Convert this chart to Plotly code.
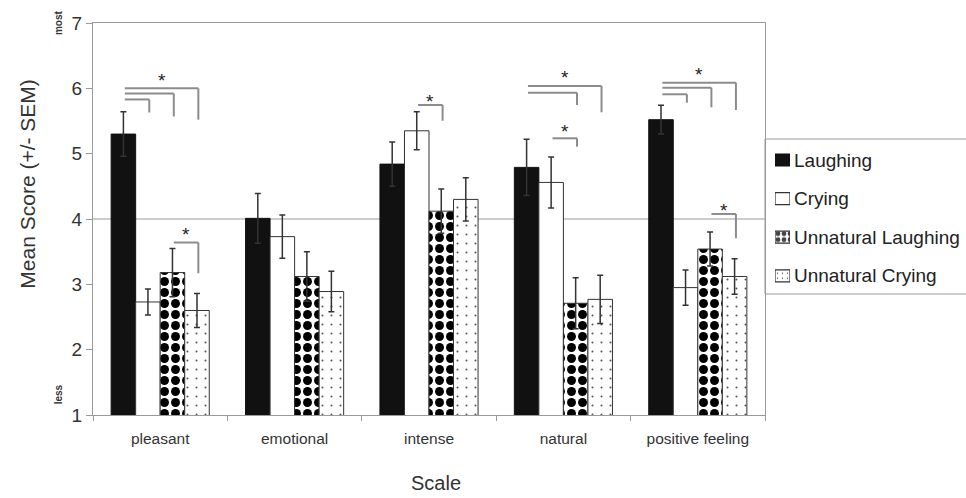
import plotly.graph_objects as go

# ---- data ---------------------------------------------------------------
categories = ["pleasant", "emotional", "intense", "natural", "positive feeling"]
series_names = ["Laughing", "Crying", "Unnatural Laughing", "Unnatural Crying"]

laughing = [5.30, 4.01, 4.84, 4.79, 5.52]
crying = [2.73, 3.73, 5.35, 4.56, 2.95]
unnatural_laughing = [3.18, 3.12, 4.12, 2.71, 3.54]
unnatural_crying = [2.60, 2.89, 4.30, 2.77, 3.12]

laughing_sem = [0.34, 0.38, 0.34, 0.43, 0.22]
crying_sem = [0.20, 0.33, 0.29, 0.39, 0.27]
unnatural_laughing_sem = [0.37, 0.38, 0.34, 0.39, 0.26]
unnatural_crying_sem = [0.26, 0.31, 0.33, 0.37, 0.27]

y_ticks = [1, 2, 3, 4, 5, 6, 7]

# significance brackets: (category, from series, to series, line level, drop end)
brackets = [
    (0, 0, 1, 5.83, 5.63),
    (0, 0, 2, 5.92, 5.57),
    (0, 0, 3, 6.00, 5.52),
    (0, 2, 3, 3.64, 3.17),
    (2, 1, 2, 5.745, 5.505),
    (3, 0, 3, 6.036, 5.633),
    (3, 0, 2, 5.933, 5.745),
    (3, 1, 2, 5.235, 5.107),
    (4, 0, 3, 6.087, 5.669),
    (4, 0, 2, 6.01, 5.71),
    (4, 0, 1, 5.909, 5.78),
    (4, 2, 3, 4.077, 3.705),
]
# asterisks: (category, from series, to series, level)
stars = [
    (0, 0, 3, 6.18),
    (0, 2, 3, 3.82),
    (2, 1, 2, 5.86),
    (3, 0, 3, 6.22),
    (3, 1, 2, 5.40),
    (4, 0, 3, 6.28),
    (4, 2, 3, 4.19),
]

# ---- geometry / styling -------------------------------------------------
W, H = 966, 498
M_L, M_T, M_B = 93, 23, 83
PLOT_W = 672                       # width of the bar panel in px
PAPER_W = W - M_L
PAPER_H = H - M_T - M_B
PANEL_END = PLOT_W / PAPER_W       # paper x of the panel's right edge


def px_x(px):
    """page x pixel -> paper fraction"""
    return (px - M_L) / PAPER_W


def px_y(py):
    """page y pixel -> paper fraction"""
    return (H - M_B - py) / PAPER_H


FONT = "Liberation Sans, Arial, sans-serif"
BAR_GAP = 0.27
N_SERIES = len(series_names)
BAR_W = (1 - BAR_GAP) / N_SERIES
AXIS_GREY = "#9a9a9a"
OUTLINE = "#333333"

fills = ["#111111", "white", "white", "white"]
outlines = ["#111111", OUTLINE, OUTLINE, OUTLINE]
pat_shapes = ["", "", ".", "."]
pat_fg = ["black", "black", "black", "#555555"]
pat_size = [10, 10, 11, 9]
pat_solidity = [0.3, 0.3, 0.52, 0.04]


def bar_center(cat, s):
    return cat + (s - (N_SERIES - 1) / 2) * BAR_W


values = [laughing, crying, unnatural_laughing, unnatural_crying]
sems = [laughing_sem, crying_sem, unnatural_laughing_sem, unnatural_crying_sem]

fig = go.Figure()
for i, name in enumerate(series_names):
    fig.add_trace(go.Bar(
        x=categories, y=values[i], name=name, showlegend=False,
        marker=dict(color=fills[i], line=dict(color=outlines[i], width=1),
                    pattern=dict(shape=pat_shapes[i], fgcolor=pat_fg[i],
                                 bgcolor=fills[i], size=pat_size[i],
                                 solidity=pat_solidity[i], fgopacity=1,
                                 fillmode="overlay")),
        error_y=dict(type="data", array=sems[i], visible=True,
                     color="#333333", thickness=1.5, width=3),
    ))

# legend swatches: one small bar per series on a hidden axis pair
legend_rows = list(range(N_SERIES))
fig.add_trace(go.Bar(
    x=[1] * N_SERIES, y=legend_rows, base=0, orientation="h", width=0.31,
    xaxis="x2", yaxis="y2", showlegend=False, hoverinfo="skip",
    marker=dict(color=fills, line=dict(color=outlines, width=1.2),
                pattern=dict(shape=pat_shapes, fgcolor=pat_fg, bgcolor=fills,
                             size=[6, 6, 6, 5], solidity=[0.3, 0.3, 0.5, 0.05],
                             fgopacity=1, fillmode="overlay")),
))

shapes = [
    # reference line at the scale midpoint
    dict(type="line", xref="x domain", yref="y", x0=0, x1=1, y0=4, y1=4,
         line=dict(color=AXIS_GREY, width=1), layer="below"),
    # legend frame (runs past the right edge of the page)
    dict(type="rect", xref="paper", yref="paper",
         x0=PANEL_END, x1=px_x(W + 10), y0=px_y(294), y1=px_y(139),
         line=dict(color=AXIS_GREY, width=1), fillcolor="white", layer="below"),
]
for cat, a, b, level, drop in brackets:
    xa = bar_center(cat, a) + 0.01
    xb = bar_center(cat, b) + 0.01
    line = dict(color="#8c8c8c", width=2)
    shapes.append(dict(type="line", xref="x", yref="y", x0=xa, x1=xb,
                       y0=level, y1=level, line=line))
    shapes.append(dict(type="line", xref="x", yref="y", x0=xb, x1=xb,
                       y0=level, y1=drop, line=line))

annotations = []
for cat, a, b, level in stars:
    xm = (bar_center(cat, a) + bar_center(cat, b)) / 2 + 0.01
    annotations.append(dict(x=xm, y=level, xref="x", yref="y", text="*",
                            showarrow=False, yanchor="middle", yshift=-4,
                            font=dict(family=FONT, size=19, color="#222")))

for k, name in enumerate(series_names):
    annotations.append(dict(x=px_x(792), y=legend_rows[k], xref="paper", yref="y2",
                            text=name, showarrow=False, xanchor="left",
                            yanchor="middle",
                            font=dict(family=FONT, size=19, color="#222")))

annotations += [
    dict(text="Mean Score (+/- SEM)", textangle=-90, xref="x domain", yref="y domain",
         x=-0.098, y=0.588, showarrow=False, xanchor="center", yanchor="middle",
         font=dict(family=FONT, size=21, color="#333")),
    dict(text="Scale", xref="x domain", yref="y domain", x=0.51, y=-0.173,
         showarrow=False, xanchor="center", yanchor="middle",
         font=dict(family=FONT, size=20, color="#333")),
    dict(text="<b>most</b>", textangle=-90, xref="x domain", yref="y domain",
         x=-0.052, y=1.0, showarrow=False, xanchor="center", yanchor="middle",
         font=dict(family=FONT, size=10, color="#333")),
    dict(text="<b>less</b>", textangle=-90, xref="x domain", yref="y domain",
         x=-0.052, y=0.053, showarrow=False, xanchor="center", yanchor="middle",
         font=dict(family=FONT, size=10, color="#333")),
]

fig.update_layout(
    width=W, height=H, autosize=False,
    margin=dict(l=M_L, r=0, t=M_T, b=M_B, autoexpand=False),
    paper_bgcolor="white", plot_bgcolor="white",
    barmode="group", bargap=BAR_GAP, bargroupgap=0,
    font=dict(family=FONT, color="#222"),
    shapes=shapes, annotations=annotations,
    showlegend=False,
    xaxis=dict(
        domain=[0, PANEL_END], type="category", showline=True,
        linecolor=AXIS_GREY, linewidth=1, mirror=True, ticks="outside",
        tickson="boundaries", ticklen=5, tickcolor=AXIS_GREY, showgrid=False,
        ticklabelstandoff=9,
        tickfont=dict(family=FONT, size=15.5, color="#333"),
    ),
    yaxis=dict(
        range=[1, 7], tickvals=y_ticks, showline=True, linecolor=AXIS_GREY,
        linewidth=1, mirror=True, ticks="outside", ticklen=6,
        tickcolor=AXIS_GREY, showgrid=False, zeroline=False,
        tickfont=dict(family=FONT, size=19, color="#333"),
    ),
    xaxis2=dict(domain=[px_x(775), px_x(790)], range=[0, 1], visible=False,
                anchor="y2", fixedrange=True),
    yaxis2=dict(domain=[px_y(295.1), px_y(140.7)], range=[3.5, -0.5],
                visible=False, anchor="x2", fixedrange=True),
)

fig.write_html("out.html")
